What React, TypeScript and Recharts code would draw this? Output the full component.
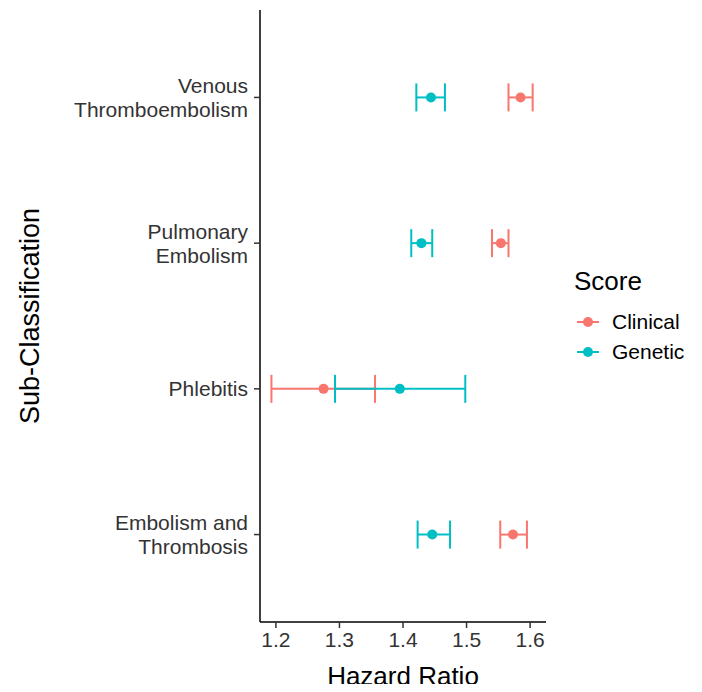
import React from "react";
import { ScatterChart, Scatter, XAxis, YAxis, ErrorBar, Label } from "recharts";

// bottom to top, like the y positions 1..4
const categories = ["Embolism and\nThrombosis", "Phlebitis", "Pulmonary\nEmbolism", "Venous\nThromboembolism"];

const clinicalHR = [1.573, 1.275, 1.554, 1.585];
const clinicalLow = [1.553, 1.193, 1.54, 1.566];
const clinicalHigh = [1.595, 1.356, 1.566, 1.604];

const geneticHR = [1.446, 1.395, 1.429, 1.444];
const geneticLow = [1.423, 1.293, 1.413, 1.421];
const geneticHigh = [1.474, 1.498, 1.446, 1.466];

const xTicks = [1.2, 1.3, 1.4, 1.5, 1.6];
const yTicks = [1, 2, 3, 4];

const CLINICAL = "#F8766D";
const GENETIC = "#00BFC4";
const FONT = "'Liberation Sans', Arial, sans-serif";

const rows = (hr: number[], low: number[], high: number[]) =>
  hr.map((v, i) => ({ y: i + 1, hr: v, err: [v - low[i], high[i] - v] }));

const clinical = rows(clinicalHR, clinicalLow, clinicalHigh);
const genetic = rows(geneticHR, geneticLow, geneticHigh);

function YTick(props: any) {
  const { x, y, payload } = props;
  const lines = categories[payload.value - 1].split("\n");
  const lh = 24;
  const start = y - ((lines.length - 1) * lh) / 2;
  return (
    <text x={x} y={start} textAnchor="end" fill="#333" fontSize={21} fontFamily={FONT}>
      {lines.map((l, i) => (
        <tspan key={i} x={x} y={start + i * lh} dy="0.36em">
          {l}
        </tspan>
      ))}
    </text>
  );
}

const dot = (color: string) => (p: any) => <circle cx={p.cx} cy={p.cy} r={5} fill={color} />;

function LegendKey({ color, label }: { color: string; label: string }) {
  return (
    <div style={{ display: "flex", alignItems: "center", height: 30 }}>
      <svg width={30} height={20}>
        <line x1={3} y1={10} x2={25} y2={10} stroke={color} strokeWidth={2} />
        <circle cx={14} cy={10} r={5} fill={color} />
      </svg>
      <span style={{ marginLeft: 8, fontSize: 21, color: "#000" }}>{label}</span>
    </div>
  );
}

export default function App() {
  return (
    <div style={{ position: "relative", width: 702, height: 692, margin: -8, background: "#fff", fontFamily: FONT }}>
      <ScatterChart width={702} height={692} margin={{ top: 10, right: 156, bottom: 0, left: 0 }}>
        <XAxis
          type="number"
          dataKey="hr"
          domain={[1.175, 1.625]}
          ticks={xTicks}
          tickFormatter={(v: number) => v.toFixed(1)}
          height={70}
          tickSize={6}
          tickMargin={4}
          axisLine={{ stroke: "#000", strokeWidth: 1.5 }}
          tickLine={{ stroke: "#333", strokeWidth: 1.5 }}
          tick={{ fill: "#333", fontSize: 21, fontFamily: FONT }}
        >
          <Label
            content={(p: any) => {
              const vb = p.viewBox;
              return (
                <text
                  x={vb.x + vb.width / 2}
                  y={vb.y + 54}
                  textAnchor="middle"
                  dominantBaseline="central"
                  fontSize={26}
                  fontFamily={FONT}
                  fill="#000"
                >
                  Hazard Ratio
                </text>
              );
            }}
          />
        </XAxis>
        <YAxis
          type="number"
          dataKey="y"
          domain={[0.4, 4.6]}
          ticks={yTicks}
          width={260}
          tickSize={6}
          tickMargin={6}
          axisLine={{ stroke: "#000", strokeWidth: 1.5 }}
          tickLine={{ stroke: "#333", strokeWidth: 1.5 }}
          tick={<YTick />}
        >
          <Label
            content={(p: any) => {
              const vb = p.viewBox;
              const cx = vb.x + 30;
              const cy = vb.y + vb.height / 2;
              return (
                <text
                  x={cx}
                  y={cy}
                  transform={`rotate(-90 ${cx} ${cy})`}
                  textAnchor="middle"
                  dominantBaseline="central"
                  fontSize={27}
                  fontFamily={FONT}
                  fill="#000"
                >
                  Sub-Classification
                </text>
              );
            }}
          />
        </YAxis>
        <Scatter name="Clinical" data={clinical} fill={CLINICAL} shape={dot(CLINICAL)} isAnimationActive={false}>
          <ErrorBar dataKey="err" direction="x" width={14} stroke={CLINICAL} strokeWidth={2} isAnimationActive={false} />
        </Scatter>
        <Scatter name="Genetic" data={genetic} fill={GENETIC} shape={dot(GENETIC)} isAnimationActive={false}>
          <ErrorBar dataKey="err" direction="x" width={14} stroke={GENETIC} strokeWidth={2} isAnimationActive={false} />
        </Scatter>
      </ScatterChart>
      <div style={{ position: "absolute", left: 574, top: 266 }}>
        <div style={{ fontSize: 26, color: "#000", marginBottom: 10 }}>Score</div>
        <LegendKey color={CLINICAL} label="Clinical" />
        <LegendKey color={GENETIC} label="Genetic" />
      </div>
    </div>
  );
}
